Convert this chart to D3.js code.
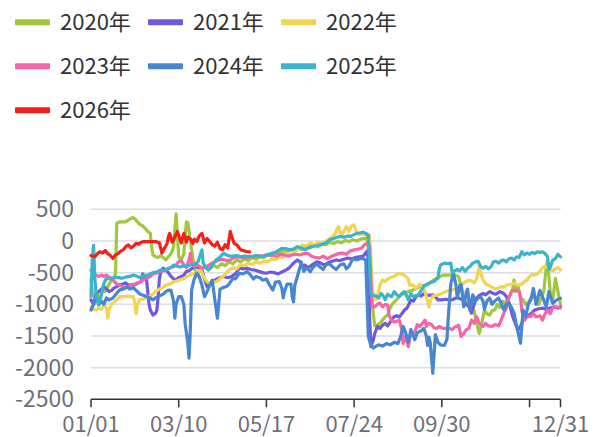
<!DOCTYPE html>
<html>
<head>
<meta charset="utf-8">
<script src="https://cdn.jsdelivr.net/npm/d3@7"></script>
<style>
  body { margin: 0; background: #fff; }
  svg { display: block; font-family: "Noto Sans CJK SC", "Noto Sans", sans-serif; }
</style>
</head>
<body>
<svg id="chart" width="593" height="437"></svg>
<script>
// category axis: every day of the year as MM/DD
const fmt = d3.timeFormat("%m/%d");
const days = d3.timeDay.range(new Date(2023, 0, 1), new Date(2024, 0, 1)).map(fmt);

const yTicks = [500, 0, -500, -1000, -1500, -2000, -2500];
const xTickIdx = [0, 68, 136, 204, 272, 340, 364];
const xLabelIdx = [0, 68, 136, 204, 272, 364];

const names = ["2020年", "2021年", "2022年", "2023年", "2024年", "2025年", "2026年"];
const colors = ["#9fc83d", "#6f59de", "#f1d44f", "#f565a8", "#4886d0", "#3bb4cb", "#f3201a"];

// [day index, value]
const s2020 = [[0,-600],[1,-800],[3,-900],[5,-850],[7,-900],[9,-780],[11,-800],[13,-720],[15,-650],[17,-600],[19,-520],[20,280],[22,300],[24,300],[26,300],[28,320],[30,340],[32,370],[34,350],[36,300],[38,260],[40,240],[42,200],[44,150],[46,120],[47,-100],[48,-220],[50,-250],[52,-260],[54,-230],[56,-260],[58,-300],[60,-250],[62,-200],[64,-100],[65,200],[66,430],[67,100],[68,-250],[70,-300],[72,-200],[73,100],[74,300],[75,290],[76,150],[78,-140],[80,-400],[82,-560],[84,-450],[86,-420],[89,-400],[92,-440],[95,-380],[98,-420],[101,-360],[104,-390],[107,-330],[110,-360],[113,-300],[116,-330],[119,-280],[122,-310],[125,-260],[128,-290],[131,-240],[134,-260],[137,-210],[140,-230],[143,-180],[146,-200],[149,-150],[152,-170],[155,-140],[158,-160],[161,-120],[164,-140],[167,-90],[170,-110],[173,-60],[176,-90],[179,-40],[182,-60],[185,-20],[188,-40],[191,-10],[194,-30],[197,10],[200,-10],[203,20],[206,0],[209,30],[212,40],[214,50],[216,-300],[218,-1000],[220,-1340],[222,-1330],[224,-1300],[226,-1250],[228,-1200],[230,-1170],[232,-1050],[234,-985],[237,-930],[240,-850],[243,-830],[246,-800],[249,-780],[252,-750],[255,-720],[258,-700],[261,-690],[264,-640],[267,-600],[270,-570],[273,-540],[276,-537],[279,-540],[282,-540],[285,-560],[287,-720],[289,-930],[291,-1000],[293,-930],[295,-1000],[297,-1100],[299,-1300],[301,-1460],[303,-1300],[305,-1090],[307,-1150],[309,-1170],[311,-1100],[313,-1090],[315,-1000],[317,-1050],[319,-950],[321,-1000],[323,-900],[325,-850],[327,-750],[328,-615],[329,-800],[331,-700],[333,-900],[335,-930],[337,-1000],[339,-980],[341,-900],[343,-850],[345,-930],[347,-1000],[349,-900],[351,-800],[353,-400],[354,-300],[355,-560],[356,-800],[358,-930],[360,-590],[362,-800],[364,-1000]];

const s2021 = [[0,-930],[2,-1000],[4,-830],[6,-800],[8,-760],[10,-720],[12,-760],[14,-800],[16,-780],[18,-740],[20,-720],[22,-695],[25,-680],[27,-660],[29,-700],[31,-690],[33,-700],[35,-680],[37,-660],[39,-640],[40,-520],[41,-560],[43,-600],[44,-800],[45,-1000],[46,-1090],[48,-1170],[50,-1140],[51,-1100],[52,-900],[53,-600],[54,-500],[56,-430],[58,-460],[60,-500],[62,-560],[64,-600],[66,-620],[68,-580],[70,-560],[72,-540],[74,-480],[76,-470],[78,-440],[80,-410],[82,-405],[84,-430],[86,-460],[88,-600],[90,-720],[92,-680],[94,-640],[96,-620],[98,-600],[100,-580],[103,-560],[106,-580],[109,-560],[112,-520],[115,-430],[118,-440],[121,-430],[124,-450],[127,-460],[130,-480],[133,-500],[136,-510],[139,-490],[142,-500],[145,-520],[148,-490],[151,-460],[154,-420],[157,-350],[160,-300],[162,-330],[164,-400],[166,-380],[168,-420],[170,-400],[172,-370],[175,-330],[178,-350],[181,-380],[184,-340],[187,-320],[190,-300],[193,-310],[196,-290],[199,-270],[202,-280],[205,-260],[208,-250],[211,-240],[214,-160],[215,-300],[216,-1200],[217,-1670],[219,-1550],[220,-1460],[222,-1350],[224,-1380],[226,-1330],[228,-1300],[230,-1340],[232,-1280],[233,-1250],[235,-1195],[237,-1180],[239,-1200],[241,-1150],[243,-1090],[245,-1060],[247,-980],[248,-930],[250,-950],[252,-880],[254,-850],[256,-870],[258,-830],[260,-850],[262,-860],[265,-850],[267,-880],[269,-930],[272,-930],[275,-920],[278,-930],[280,-930],[283,-900],[285,-900],[288,-930],[290,-980],[293,-1040],[295,-1140],[297,-1000],[299,-900],[301,-860],[304,-830],[306,-850],[309,-800],[311,-820],[314,-840],[317,-800],[320,-830],[323,-900],[325,-1040],[327,-1200],[329,-1300],[331,-1405],[333,-1350],[335,-1250],[337,-1200],[339,-1180],[341,-1150],[344,-1090],[347,-1070],[350,-1060],[353,-1080],[356,-1060],[359,-1040],[362,-1060],[364,-1040]];

const s2022 = [[0,-1040],[2,-1080],[4,-1090],[6,-1060],[8,-1080],[10,-1020],[12,-1050],[13,-1220],[14,-1080],[16,-1000],[18,-960],[20,-930],[22,-880],[25,-880],[28,-870],[31,-880],[33,-880],[34,-1000],[35,-1150],[36,-1000],[38,-920],[40,-920],[43,-900],[45,-880],[48,-840],[50,-800],[53,-760],[55,-740],[58,-700],[61,-680],[63,-660],[65,-640],[67,-630],[69,-610],[71,-600],[73,-580],[75,-560],[77,-540],[79,-520],[81,-490],[83,-480],[85,-460],[87,-550],[89,-620],[91,-660],[93,-680],[95,-650],[97,-640],[99,-620],[101,-580],[103,-550],[105,-500],[107,-460],[110,-420],[113,-440],[116,-370],[119,-390],[122,-350],[125,-370],[128,-330],[131,-350],[134,-320],[137,-330],[140,-280],[143,-300],[146,-240],[149,-260],[152,-200],[155,-220],[158,-170],[161,-120],[164,-60],[167,-80],[170,-30],[173,-60],[176,-20],[179,-40],[182,0],[185,40],[187,70],[189,100],[191,200],[192,225],[194,80],[196,150],[198,230],[200,150],[202,240],[204,253],[206,120],[208,100],[210,110],[213,100],[215,110],[216,80],[217,-300],[218,-775],[220,-880],[221,-930],[223,-800],[224,-695],[226,-615],[228,-640],[229,-620],[231,-590],[233,-570],[235,-560],[237,-530],[238,-510],[240,-520],[242,-530],[244,-560],[246,-600],[247,-700],[249,-690],[251,-720],[252,-750],[254,-700],[255,-680],[257,-740],[259,-800],[260,-880],[262,-1040],[263,-950],[265,-870],[267,-860],[269,-850],[271,-840],[273,-820],[275,-800],[277,-780],[280,-775],[282,-760],[285,-750],[287,-700],[289,-660],[291,-640],[293,-620],[295,-630],[297,-660],[299,-600],[301,-380],[302,-500],[304,-620],[306,-680],[308,-695],[310,-720],[312,-740],[314,-760],[316,-740],[318,-720],[320,-730],[322,-700],[324,-690],[326,-680],[328,-670],[330,-690],[332,-700],[334,-680],[336,-640],[338,-620],[340,-560],[342,-530],[344,-540],[346,-520],[348,-480],[350,-420],[352,-400],[354,-420],[356,-450],[358,-470],[360,-440],[362,-420],[364,-458]];

const s2023 = [[0,-460],[2,-520],[4,-540],[6,-560],[8,-540],[10,-560],[12,-540],[14,-570],[16,-590],[18,-640],[20,-680],[22,-695],[24,-720],[26,-740],[28,-730],[30,-700],[32,-690],[34,-680],[36,-660],[38,-650],[40,-620],[42,-600],[44,-580],[46,-560],[48,-520],[50,-510],[52,-500],[54,-480],[56,-470],[58,-460],[60,-440],[62,-420],[64,-405],[66,-380],[68,-325],[70,-310],[72,-380],[74,-420],[76,-300],[77,-195],[78,-350],[80,-400],[82,-380],[84,-400],[86,-430],[88,-420],[90,-400],[93,-360],[96,-330],[99,-300],[102,-290],[105,-310],[108,-300],[111,-260],[114,-250],[117,-260],[120,-270],[123,-240],[126,-250],[129,-230],[132,-240],[135,-225],[138,-220],[141,-230],[144,-240],[147,-210],[150,-220],[153,-240],[156,-220],[159,-210],[162,-220],[165,-200],[168,-195],[171,-240],[174,-260],[177,-270],[180,-240],[183,-280],[186,-250],[189,-220],[192,-200],[195,-190],[198,-210],[201,-160],[204,-140],[207,-130],[210,-110],[212,-60],[214,-37],[216,-80],[217,-600],[218,-1040],[220,-1040],[222,-1000],[224,-980],[226,-1040],[228,-1000],[230,-1010],[231,-1170],[233,-1250],[235,-1280],[237,-1270],[239,-1250],[241,-1400],[242,-1620],[244,-1500],[246,-1670],[248,-1450],[250,-1460],[251,-1440],[253,-1320],[255,-1350],[257,-1300],[259,-1250],[260,-1350],[262,-1300],[264,-1320],[266,-1370],[268,-1380],[270,-1350],[273,-1380],[275,-1380],[278,-1380],[280,-1400],[282,-1360],[284,-1340],[285,-1330],[287,-1510],[289,-1460],[291,-1400],[293,-1380],[295,-1250],[297,-1300],[299,-1200],[301,-1300],[304,-1350],[306,-1300],[308,-1340],[311,-1350],[313,-1320],[316,-1340],[318,-1250],[320,-1140],[322,-1060],[324,-900],[326,-800],[328,-775],[330,-780],[332,-800],[333,-900],[334,-1100],[336,-1250],[338,-1200],[341,-1190],[343,-1150],[345,-1200],[348,-1180],[350,-1250],[352,-1150],[354,-1090],[356,-1150],[358,-1060],[361,-1040],[364,-1060]];

const s2024 = [[0,-1090],[2,-1000],[4,-880],[6,-1010],[8,-950],[10,-1000],[12,-900],[14,-930],[17,-900],[19,-850],[22,-775],[25,-760],[28,-720],[30,-760],[33,-740],[36,-800],[38,-840],[41,-860],[43,-880],[46,-900],[48,-930],[50,-900],[52,-880],[54,-860],[56,-840],[58,-800],[60,-775],[62,-780],[64,-950],[65,-1220],[66,-1000],[68,-880],[70,-880],[72,-1000],[73,-1310],[75,-1600],[76,-1850],[77,-1400],[78,-775],[80,-600],[82,-510],[84,-560],[86,-700],[88,-880],[90,-800],[92,-700],[94,-620],[96,-930],[98,-1220],[99,-1000],[100,-760],[102,-740],[105,-720],[107,-680],[110,-590],[112,-600],[115,-510],[118,-520],[121,-485],[123,-520],[126,-600],[128,-560],[131,-580],[133,-620],[136,-600],[138,-680],[141,-775],[143,-650],[146,-640],[148,-750],[149,-900],[150,-800],[152,-680],[155,-680],[156,-880],[157,-960],[158,-700],[160,-560],[162,-420],[163,-330],[165,-480],[167,-420],[170,-485],[172,-420],[175,-360],[178,-420],[180,-450],[182,-380],[185,-360],[188,-420],[190,-450],[193,-380],[196,-360],[198,-440],[200,-400],[203,-280],[206,-300],[210,-270],[213,-300],[214,-900],[215,-1510],[217,-1650],[219,-1690],[221,-1660],[223,-1640],[226,-1660],[229,-1620],[232,-1640],[235,-1600],[238,-1620],[240,-1510],[242,-1350],[244,-1450],[246,-1600],[248,-1400],[250,-1500],[251,-1560],[253,-1450],[256,-1420],[258,-1380],[260,-1500],[261,-1650],[262,-1520],[263,-1600],[265,-2090],[267,-1480],[269,-1600],[271,-1640],[274,-1650],[276,-1550],[277,-1200],[279,-670],[281,-510],[283,-700],[284,-900],[286,-700],[287,-690],[289,-1040],[291,-800],[292,-760],[294,-1100],[296,-850],[298,-950],[300,-900],[302,-880],[304,-950],[305,-1080],[307,-950],[309,-900],[311,-1000],[313,-950],[316,-900],[318,-985],[320,-1090],[322,-1000],[324,-985],[326,-1050],[328,-1140],[330,-1350],[333,-1615],[335,-1090],[337,-1195],[339,-1000],[341,-930],[343,-750],[345,-1000],[348,-780],[350,-880],[353,-1040],[355,-800],[358,-985],[361,-930],[364,-906]];

const s2025 = [[0,-880],[1,-300],[2,-70],[3,-600],[4,-850],[6,-1000],[8,-850],[10,-670],[12,-590],[15,-600],[18,-580],[21,-575],[24,-590],[27,-570],[30,-560],[33,-537],[36,-560],[38,-580],[41,-540],[43,-550],[46,-520],[48,-500],[51,-490],[54,-458],[57,-470],[59,-440],[62,-420],[64,-380],[67,-400],[69,-410],[72,-390],[74,-400],[77,-380],[80,-370],[83,-330],[85,-200],[86,-140],[87,-350],[89,-420],[91,-460],[93,-420],[95,-350],[97,-300],[99,-275],[101,-230],[103,-195],[105,-220],[108,-240],[110,-240],[113,-230],[116,-250],[119,-240],[122,-250],[125,-245],[128,-230],[131,-250],[134,-240],[137,-220],[140,-195],[143,-180],[146,-140],[148,-115],[151,-120],[154,-140],[157,-130],[160,-90],[163,-110],[166,-140],[169,-100],[171,-90],[174,-80],[177,-63],[180,-50],[183,-20],[185,15],[188,40],[191,60],[193,70],[196,60],[199,80],[201,70],[204,100],[206,120],[209,130],[211,140],[213,120],[215,90],[216,-400],[217,-850],[219,-860],[221,-870],[223,-900],[225,-830],[227,-880],[228,-930],[230,-840],[232,-870],[233,-880],[235,-800],[237,-850],[239,-880],[241,-830],[243,-800],[245,-880],[246,-930],[248,-830],[250,-880],[252,-860],[254,-850],[256,-780],[258,-720],[260,-690],[262,-670],[264,-650],[266,-640],[268,-600],[269,-590],[270,-450],[271,-380],[273,-360],[275,-350],[277,-360],[279,-350],[280,-500],[282,-470],[284,-450],[286,-470],[288,-420],[290,-480],[292,-430],[294,-400],[296,-350],[298,-330],[300,-320],[302,-400],[304,-430],[306,-400],[308,-440],[310,-410],[312,-330],[314,-320],[316,-350],[318,-310],[320,-300],[322,-330],[324,-280],[326,-270],[328,-300],[330,-250],[332,-260],[334,-170],[336,-220],[338,-190],[340,-210],[342,-180],[344,-200],[346,-170],[348,-180],[350,-170],[352,-200],[354,-250],[355,-450],[356,-420],[358,-300],[360,-280],[362,-210],[364,-250]];

const s2026 = [[0,-230],[3,-250],[5,-200],[7,-170],[9,-190],[11,-150],[13,-200],[15,-230],[17,-275],[19,-220],[21,-200],[23,-160],[25,-140],[27,-90],[29,-63],[31,-110],[33,-80],[35,-37],[37,-50],[39,-20],[41,-10],[44,-10],[47,-10],[50,-10],[53,-30],[55,-190],[57,-110],[59,-40],[60,70],[61,120],[63,-20],[65,60],[67,150],[69,30],[70,-30],[72,120],[74,-20],[75,60],[77,30],[79,-40],[80,30],[82,-10],[84,80],[86,120],[88,-30],[90,40],[92,-10],[94,-60],[96,-80],[98,-20],[100,-120],[102,-140],[104,-60],[106,-110],[108,150],[109,80],[111,-40],[113,-60],[116,-140],[118,-150],[121,-170],[123,-170]];

const series = [s2020, s2021, s2022, s2023, s2024, s2025, s2026];

const svg = d3.select("#chart");
const plotLeft = 91, plotRight = 560.5, plotTop = 209.3, plotBottom = 399.3;

const x = d3.scalePoint().domain(days).range([plotLeft, plotRight]);
const y = d3.scaleLinear().domain([-2500, 500]).range([plotBottom, plotTop]);

// grid lines
svg.append("g")
    .selectAll("line")
    .data(yTicks.filter(t => t !== -2500))
    .enter().append("line")
    .attr("x1", plotLeft).attr("x2", plotRight)
    .attr("y1", d => y(d)).attr("y2", d => y(d))
    .attr("stroke", "#dadce6")
    .attr("stroke-width", 1.5);

// y labels
svg.append("g")
    .selectAll("text")
    .data(yTicks)
    .enter().append("text")
    .attr("x", 74)
    .attr("y", d => y(d))
    .attr("dy", "0.35em")
    .attr("text-anchor", "end")
    .attr("fill", "#6e7079")
    .attr("font-size", 23)
    .text(d => d);

// series lines
const line = d3.line()
    .x(d => x(days[d[0]]))
    .y(d => y(d[1]));

svg.append("g")
    .selectAll("path")
    .data(series)
    .enter().append("path")
    .attr("d", line)
    .attr("fill", "none")
    .attr("stroke", (d, i) => colors[i])
    .attr("stroke-width", 3.2)
    .attr("stroke-linejoin", "round")
    .attr("stroke-linecap", "round");

// x axis
const xAxis = svg.append("g");
xAxis.append("line")
    .attr("x1", plotLeft).attr("x2", plotRight)
    .attr("y1", plotBottom).attr("y2", plotBottom)
    .attr("stroke", "#333")
    .attr("stroke-width", 1.5);
xAxis.selectAll(".tick")
    .data(xTickIdx)
    .enter().append("line")
    .attr("class", "tick")
    .attr("x1", d => x(days[d])).attr("x2", d => x(days[d]))
    .attr("y1", plotBottom).attr("y2", plotBottom + 8)
    .attr("stroke", "#333")
    .attr("stroke-width", 1.5);
xAxis.selectAll("text")
    .data(xLabelIdx)
    .enter().append("text")
    .attr("x", d => x(days[d]))
    .attr("y", 424)
    .attr("dy", "0.35em")
    .attr("text-anchor", "middle")
    .attr("fill", "#6e7079")
    .attr("font-size", 22)
    .text(d => days[d]);

// legend
const legend = svg.append("g")
    .selectAll("g")
    .data(names)
    .enter().append("g")
    .attr("transform", (d, i) => `translate(${15 + (i % 3) * 133},${22.3 + Math.floor(i / 3) * 44})`);
legend.append("rect")
    .attr("x", 0).attr("y", -3)
    .attr("width", 35).attr("height", 6)
    .attr("rx", 1)
    .attr("fill", (d, i) => colors[i]);
legend.append("text")
    .attr("x", 45)
    .attr("dy", "0.35em")
    .attr("fill", "#333")
    .attr("font-size", 22)
    .text(d => d);
</script>
</body>
</html>
